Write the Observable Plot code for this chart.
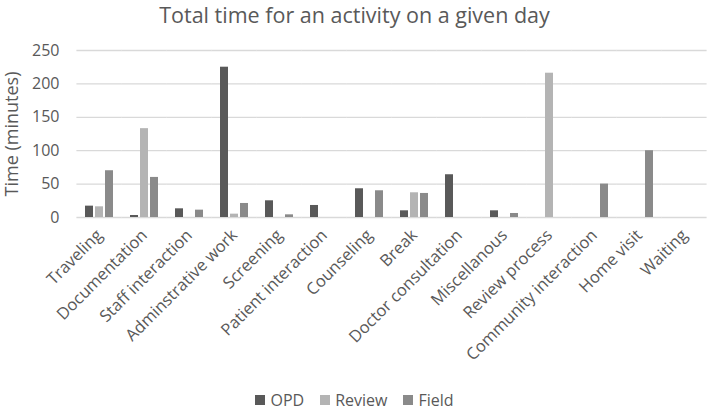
<!DOCTYPE html>
<html><head><meta charset="utf-8">
<script src="https://cdn.jsdelivr.net/npm/d3@7"></script>
<script src="https://cdn.jsdelivr.net/npm/@observablehq/plot@0.6"></script>
<style>
body{margin:0;background:#fff;font-family:"Open Sans",sans-serif;color:#595959;}
#title{width:709px;height:30px;line-height:29px;text-align:center;font-size:21.5px;}
#chart{height:360px;}
#legend{width:709px;height:19px;display:flex;justify-content:center;align-items:center;font-size:16px;gap:16px;}
.item{display:flex;align-items:center;gap:5px;}
.sw{width:10px;height:10px;display:inline-block;}
</style></head><body>
<div id="title">Total time for an activity on a given day</div>
<div id="chart"></div>
<div id="legend"></div>
<script>
const activities = ["Traveling","Documentation","Staff interaction","Adminstrative work","Screening","Patient interaction","Counseling","Break","Doctor consultation","Miscellanous","Review process","Community interaction","Home visit","Waiting"];
const opd    = [17, 3, 13, 225, 25, 18, 43, 10, 64, 10, 0, 0, 0, 0];
const review = [16, 133, 0, 5, 0, 0, 0, 37, 0, 0, 216, 0, 0, 0];
const field  = [70, 60, 11, 21, 4, 0, 40, 36, 0, 6, 0, 50, 100, 0];
const seriesNames = ["OPD", "Review", "Field"];
const seriesColors = ["#595959", "#b4b4b4", "#8a8a8a"];
const yTicks = [0, 50, 100, 150, 200, 250];

const seriesValues = [opd, review, field];
const data = activities.flatMap((a, i) => seriesNames.map((s, j) => ({activity: a, series: s, value: seriesValues[j][i]})));

const chart = Plot.plot({
  width: 709, height: 360,
  marginLeft: 77, marginRight: 2, marginTop: 20, marginBottom: 173,
  style: {fontFamily: "Open Sans", fontSize: "15px", color: "#595959", background: "white"},
  fx: {domain: activities, paddingInner: 0.33, paddingOuter: 0.165, label: null},
  x: {domain: seriesNames, paddingInner: 0.17, paddingOuter: 0.02, axis: null},
  y: {domain: [0, 250], label: null},
  color: {domain: seriesNames, range: seriesColors},
  marks: [
    Plot.ruleY(yTicks, {stroke: "#d9d9d9", strokeWidth: 1.3, insetLeft: -7.6, insetRight: -7.6}),
    Plot.barY(data, {fx: "activity", x: "series", y: "value", fill: "series"}),
    Plot.axisY({ticks: yTicks, tickSize: 0, tickPadding: 25, fontSize: 16, label: null}),
    Plot.axisY({ticks: [], tickSize: 0, fontSize: 18, label: "Time (minutes)", labelAnchor: "center", labelArrow: "none", labelOffset: 79}),
    Plot.axisFx({anchor: "bottom", tickRotate: -45, tickSize: 0, tickPadding: 15, fontSize: 16.5, label: null})
  ]
});
document.getElementById("chart").appendChild(chart);

const legend = document.getElementById("legend");
seriesNames.forEach((s, i) => {
  const it = document.createElement("span");
  it.className = "item";
  it.innerHTML = `<span class="sw" style="background:${seriesColors[i]}"></span><span>${s}</span>`;
  legend.appendChild(it);
});
</script>
</body></html>
